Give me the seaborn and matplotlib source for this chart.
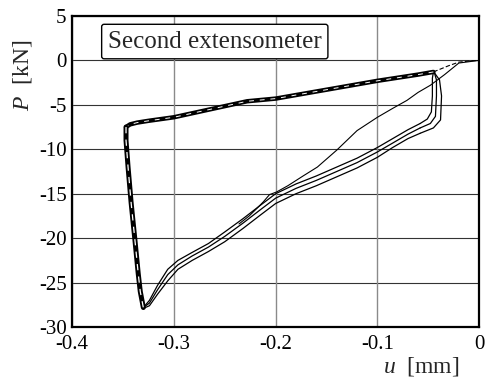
import matplotlib
matplotlib.use("Agg")
import matplotlib.pyplot as plt
import seaborn as sns
import pandas as pd

# ---- data ----
lower_u = [-0.330, -0.324, -0.316, -0.306, -0.296, -0.282, -0.266, -0.250, -0.232, -0.215,
           -0.200, -0.180, -0.160, -0.140, -0.120, -0.100, -0.085, -0.070, -0.058]
lower_p1 = [-27.8, -27.0, -25.3, -23.5, -22.5, -21.6, -20.6, -19.3, -17.8, -16.3,
            -15.0, -13.9, -13.0, -12.0, -11.0, -9.8, -8.8, -7.8, -7.1]
lower_p2 = [-27.8, -27.3, -25.8, -24.1, -23.0, -22.0, -21.0, -19.8, -18.3, -16.8,
            -15.5, -14.4, -13.5, -12.5, -11.5, -10.3, -9.3, -8.3, -7.6]
lower_p3 = [-27.9, -27.6, -26.3, -24.8, -23.5, -22.5, -21.5, -20.4, -18.9, -17.4,
            -16.1, -15.0, -14.1, -13.1, -12.1, -10.9, -9.8, -8.8, -8.2]

right1_u = [-0.058, -0.051, -0.047, -0.046, -0.046, -0.045]
right1_p = [-7.1, -6.6, -5.8, -4.0, -2.0, -1.3]
right2_u = [-0.058, -0.048, -0.043, -0.042, -0.042, -0.044]
right2_p = [-7.6, -7.1, -6.3, -4.0, -2.2, -1.4]
right3_u = [-0.058, -0.045, -0.038, -0.037, -0.039, -0.044]
right3_p = [-8.2, -7.6, -6.7, -4.0, -2.2, -1.4]

upper_u = [-0.045, -0.060, -0.100, -0.150, -0.200, -0.228, -0.260, -0.300, -0.325, -0.336, -0.343, -0.347]
upper_p = [-1.3, -1.6, -2.3, -3.3, -4.3, -4.6, -5.4, -6.4, -6.8, -7.0, -7.2, -7.5]

left_u = [-0.347, -0.347, -0.345, -0.342, -0.338, -0.335, -0.333, -0.330]
left_p = [-7.5, -9.0, -12.0, -16.0, -20.5, -24.0, -26.0, -27.8]

init_u = [0.0, -0.020, -0.034, -0.048, -0.060, -0.071, -0.085, -0.100, -0.120, -0.140,
          -0.159, -0.173, -0.188, -0.199, -0.206, -0.212, -0.218, -0.226, -0.236]
init_p = [0.0, -0.3, -1.6, -2.8, -3.6, -4.5, -5.4, -6.4, -7.9, -10.1,
          -12.0, -13.0, -14.1, -14.8, -15.1, -15.9, -16.6, -17.5, -18.4]

link_u = [-0.045, -0.030, -0.020, -0.008, 0.0]
link_p = [-1.3, -0.6, -0.2, -0.05, 0.0]

x_ticks = [-0.4, -0.3, -0.2, -0.1, 0]
x_labels = ["-0.4", "-0.3", "-0.2", "-0.1", "0"]
y_ticks = [5, 0, -5, -10, -15, -20, -25, -30]
y_labels = ["5", "0", "-5", "-10", "-15", "-20", "-25", "-30"]

# ---- style ----
sns.set_theme(style="white")
plt.rcParams["font.family"] = ["Liberation Serif", "DejaVu Serif"]
plt.rcParams["mathtext.fontset"] = "custom"
plt.rcParams["mathtext.it"] = "Liberation Serif:italic"
plt.rcParams["mathtext.rm"] = "Liberation Serif"

fig = plt.figure(figsize=(4.87, 3.79), dpi=100)
ax = fig.add_axes([0.148, 0.137, 0.836, 0.821])


def draw(u, p, lw=0.8, color="black", **kw):
    df = pd.DataFrame({"u": u, "p": p})
    sns.lineplot(data=df, x="u", y="p", sort=False, estimator=None, ax=ax,
                 color=color, linewidth=lw, **kw)


for lp in (lower_p1, lower_p2, lower_p3):
    draw(lower_u, lp, lw=0.9)
for ru, rp in ((right1_u, right1_p), (right2_u, right2_p), (right3_u, right3_p)):
    draw(ru, rp, lw=0.9)
draw(init_u, init_p, lw=0.8)
draw(link_u, link_p, lw=0.8, linestyle=(0, (4, 2)))

draw(upper_u, upper_p, lw=3.2)
draw(upper_u, upper_p, lw=0.7, color="white", linestyle=(0, (5, 6)))
draw(left_u, left_p, lw=3.6)
draw(left_u, left_p, lw=0.9, color="white", linestyle=(0, (5, 5)))

ax.set_xlim(-0.4, 0)
ax.set_ylim(-30, 5)
ax.set_xticks(x_ticks)
ax.set_xticklabels(x_labels)
ax.set_yticks(y_ticks)
ax.set_yticklabels(y_labels)
ax.tick_params(length=0, labelsize=15, colors="black")
ax.tick_params(axis="x", pad=6)
ax.tick_params(axis="y", pad=4)
ax.set_xlabel("")
ax.set_ylabel("")

for y in y_ticks:
    ax.axhline(y, color="#333333", lw=0.8, zorder=0)
for x in x_ticks:
    ax.axvline(x, color="#8a8a8a", lw=1.0, zorder=0)

for s in ax.spines.values():
    s.set_visible(True)
    s.set_color("black")
    s.set_linewidth(1.6)

fig.text(0.047, 0.80, r"$\it{P}$  [kN]", rotation=90, ha="center", va="center",
         fontsize=17)
fig.text(0.865, 0.034, r"$\it{u}$  [mm]", ha="center", va="center", fontsize=17)

ax.text(0.088, 0.953, "Second extensometer", transform=ax.transAxes, ha="left",
        va="top", fontsize=18,
        bbox=dict(boxstyle="round,pad=0.25,rounding_size=0.1", fc="white",
                  ec="black", lw=1.0))

fig.savefig("out.png", dpi=100, facecolor="white")
